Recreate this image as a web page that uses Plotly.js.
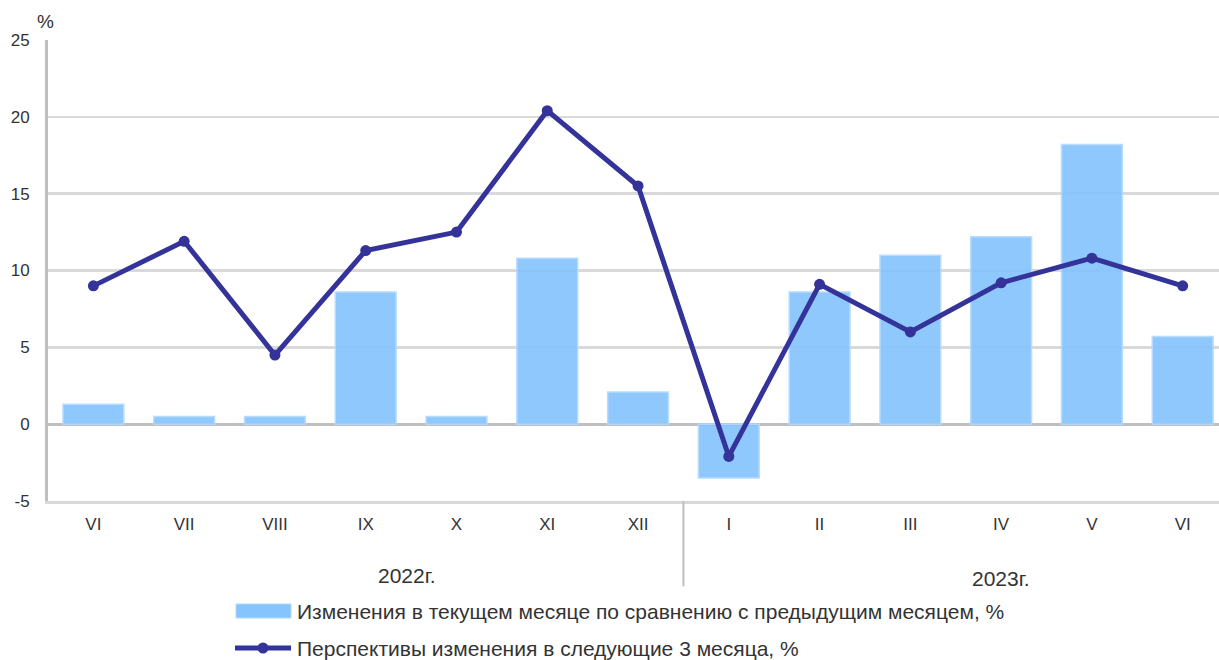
<!DOCTYPE html>
<html><head><meta charset="utf-8">
<script src="https://cdn.plot.ly/plotly-3.0.1.min.js"></script>
<style>html,body{margin:0;padding:0;background:#fff}#c{width:1219px;height:660px}</style>
</head><body><div id="c"></div>
<script>
const months = ['VI','VII','VIII','IX','X','XI','XII','I','II','III','IV','V','VI'];
const currentChange = [1.3, 0.5, 0.5, 8.6, 0.5, 10.8, 2.1, -3.5, 8.6, 11.0, 12.2, 18.2, 5.7];
const outlook = [9.0, 11.9, 4.5, 11.3, 12.5, 20.4, 15.5, -2.1, 9.1, 6.0, 9.2, 10.8, 9.0];
const yearLabels = ['2022г.', '2023г.'];
const yTickVals = [-5, 0, 5, 10, 15, 20, 25];
const yTickText = ['-5', '0', '5', '10', '15', '20', '25'];
const seriesNames = ['Изменения в текущем месяце по сравнению с предыдущим месяцем, %', 'Перспективы изменения в следующие 3 месяца, %'];

const idx = months.map((m, i) => i);
const font = {family: 'Liberation Sans, Arial, sans-serif', color: '#333333'};
const barColor = '#85c4fd', lineColor = '#333399';

const traces = [
  {type: 'bar', x: idx, y: currentChange, name: seriesNames[0], width: 0.67,
   marker: {color: barColor, opacity: 0.92, line: {color: '#b3d9ff', width: 1.5}}},
  {type: 'scatter', mode: 'lines+markers', x: idx, y: outlook, name: seriesNames[1],
   line: {color: lineColor, width: 5}, marker: {color: lineColor, size: 11, symbol: 'circle'}}
];

const px = p => (p - 48) / 1171;
const py = p => (501 - p) / 461;

const layout = {
  width: 1219, height: 660,
  margin: {l: 48, r: 0, t: 40, b: 159},
  paper_bgcolor: '#fff', plot_bgcolor: '#fff',
  font: Object.assign({size: 17}, font),
  showlegend: false,
  bargap: 0.33,
  xaxis: {range: [-0.5, 12.4], tickmode: 'array', tickvals: idx, ticktext: months,
          showgrid: false, zeroline: false, showline: true, linecolor: '#d9d9d9', linewidth: 3,
          ticks: '', tickfont: Object.assign({size: 17}, font), ticklabelstandoff: 6, fixedrange: true},
  yaxis: {range: [-5, 25], tickmode: 'array', tickvals: yTickVals, ticktext: yTickText, ticks: '',
          showgrid: true, gridcolor: '#d9d9d9', gridwidth: 2.5,
          zeroline: true, zerolinecolor: '#bfbfbf', zerolinewidth: 3,
          showline: true, linecolor: '#bfbfbf', linewidth: 3,
          tickfont: Object.assign({size: 17}, font), ticklabelstandoff: 12, fixedrange: true},
  shapes: [
    {type: 'line', xref: 'x', yref: 'paper', x0: 6.5, x1: 6.5, y0: 0, y1: -0.185,
     line: {color: '#bfbfbf', width: 2}},
    {type: 'rect', xref: 'paper', yref: 'paper', x0: px(236), x1: px(291), y0: py(604), y1: py(618),
     fillcolor: barColor, line: {color: '#b3d9ff', width: 1}},
    {type: 'line', xref: 'paper', yref: 'paper', x0: px(235), x1: px(291), y0: py(648), y1: py(648),
     line: {color: lineColor, width: 5}},
    {type: 'circle', xref: 'paper', yref: 'paper', xsizemode: 'pixel', ysizemode: 'pixel',
     xanchor: px(263), yanchor: py(648), x0: -5.5, x1: 5.5, y0: -5.5, y1: 5.5,
     fillcolor: lineColor, line: {color: lineColor, width: 0}}
  ],
  annotations: [
    {text: '%', xref: 'paper', yref: 'paper', x: -0.011, y: 1.012, xanchor: 'left', yanchor: 'bottom',
     showarrow: false, font: Object.assign({size: 19}, font)},
    {text: yearLabels[0], xref: 'x', yref: 'paper', x: 3.46, y: py(575), yanchor: 'middle', showarrow: false,
     font: Object.assign({size: 21}, font)},
    {text: yearLabels[1], xref: 'x', yref: 'paper', x: 10.0, y: py(578), yanchor: 'middle', showarrow: false,
     font: Object.assign({size: 21}, font)},
    {text: seriesNames[0], xref: 'paper', yref: 'paper', x: px(295), y: py(611), xanchor: 'left', yanchor: 'middle',
     showarrow: false, font: Object.assign({size: 21}, font)},
    {text: seriesNames[1], xref: 'paper', yref: 'paper', x: px(295), y: py(648), xanchor: 'left', yanchor: 'middle',
     showarrow: false, font: Object.assign({size: 21}, font)}
  ]
};

Plotly.newPlot('c', traces, layout, {displayModeBar: false, staticPlot: true});
</script></body></html>
